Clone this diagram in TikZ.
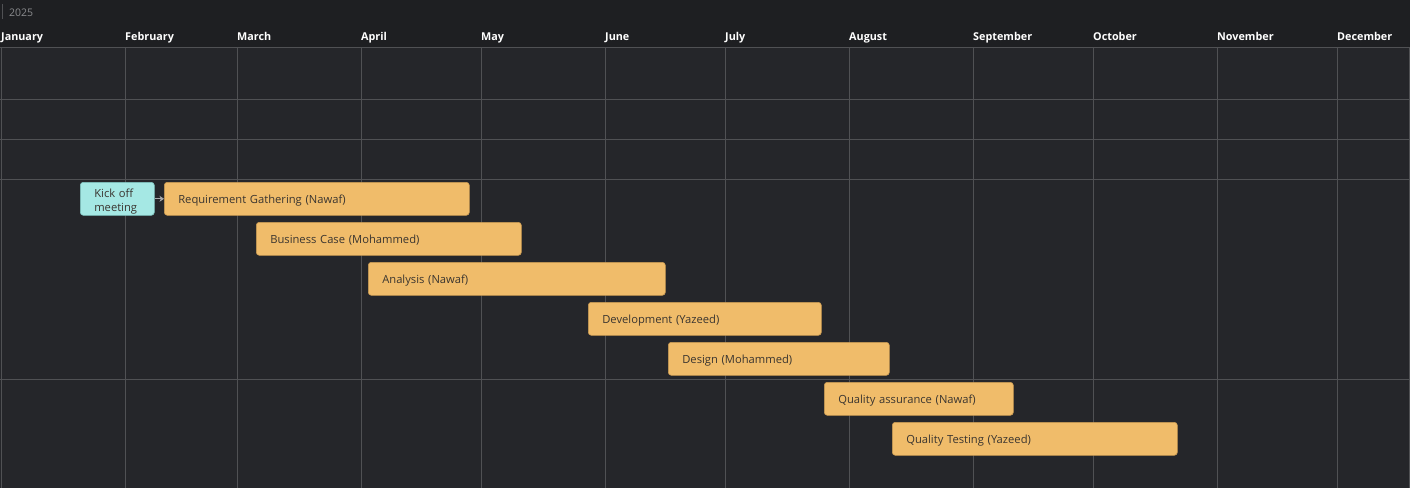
\documentclass[tikz,border=0pt]{standalone}
\usepackage{fontspec}
\setmainfont{Open Sans}
\usetikzlibrary{arrows.meta}
\definecolor{headbg}{HTML}{1E1F22}
\definecolor{bodybg}{HTML}{25262A}
\definecolor{gridln}{HTML}{505154}
\definecolor{yeartxt}{HTML}{8A8B8E}
\definecolor{taskfill}{HTML}{F0BC6A}
\definecolor{taskline}{HTML}{C99A52}
\definecolor{kickfill}{HTML}{A5E8E4}
\definecolor{kickline}{HTML}{7FC4C0}
\definecolor{tasktxt}{HTML}{3A3530}
\definecolor{linkcol}{HTML}{A8A9AC}
\tikzset{
  grid line/.style={draw=gridln, line width=0.9pt},
  month/.style={anchor=base west, text=white, font=\fontsize{10.8}{13}\selectfont\bfseries, inner sep=0pt},
  boxbase/.style={rounded corners=3pt, line width=0.6pt,
    anchor=north west, minimum height=33pt, inner ysep=0pt, inner xsep=14pt,
    text=tasktxt, font=\fontsize{11.2}{14}\selectfont, align=left},
  taskbox/.style={boxbase, draw=taskline, fill=taskfill, text height=10pt, text depth=0pt},
  kickbox/.style={boxbase, draw=kickline, fill=kickfill, text height=14.5pt},
  link/.style={draw=linkcol, line width=1.2pt, -{Stealth[length=4.5pt,width=6pt]}}
}
% \gtask{name}{left}{right}{top}{label}
\newcommand\gtask[5]{%
  \node[taskbox, text width={#3-#2-28pt}] (#1) at (#2,#4) {#5};}
\begin{document}
\begin{tikzpicture}[x=1pt,y=-1pt]
  \useasboundingbox (0,0) rectangle (1410,488);
  % backgrounds
  \fill[headbg] (0,0) rectangle (1410,47);
  \fill[bodybg] (0,47) rectangle (1410,488);
  % year header
  \draw[draw=gridln, line width=0.8pt] (2,4) -- (2,19);
  \node[anchor=base west, text=yeartxt, inner sep=0pt, font=\fontsize{10.5}{12}\selectfont] (year) at (9,16) {2025};
  % month columns
  \foreach \x/\m in {1/January,125/February,237/March,361/April,481/May,605/June,
                      725/July,849/August,973/September,1093/October,1217/November,1337/December}{
    \draw[grid line] (\x,47) -- (\x,488);
    \node[month] (m-\m) at (\x,40) {\m};
  }
  \draw[grid line] (1409,47) -- (1409,488);
  % row lines
  \foreach \y in {47,99,139,179,379}{
    \draw[grid line] (0,\y) -- (1410,\y);
  }
  % tasks
  \node[kickbox, text width=46pt] (kick) at (80,182) {Kick off\\meeting};
  \gtask{req}{164}{469}{182}{Requirement Gathering (Nawaf)}
  \gtask{bc}{256}{521}{222}{Business Case (Mohammed)}
  \gtask{ana}{368}{665}{262}{Analysis (Nawaf)}
  \gtask{dev}{588}{821}{302}{Development (Yazeed)}
  \gtask{des}{668}{889}{342}{Design (Mohammed)}
  \gtask{qa}{824}{1013}{382}{Quality assurance (Nawaf)}
  \gtask{qt}{892}{1177}{422}{Quality Testing (Yazeed)}
  % dependency
  \draw[link] (kick.east) -- (req.west);
\end{tikzpicture}
\end{document}
